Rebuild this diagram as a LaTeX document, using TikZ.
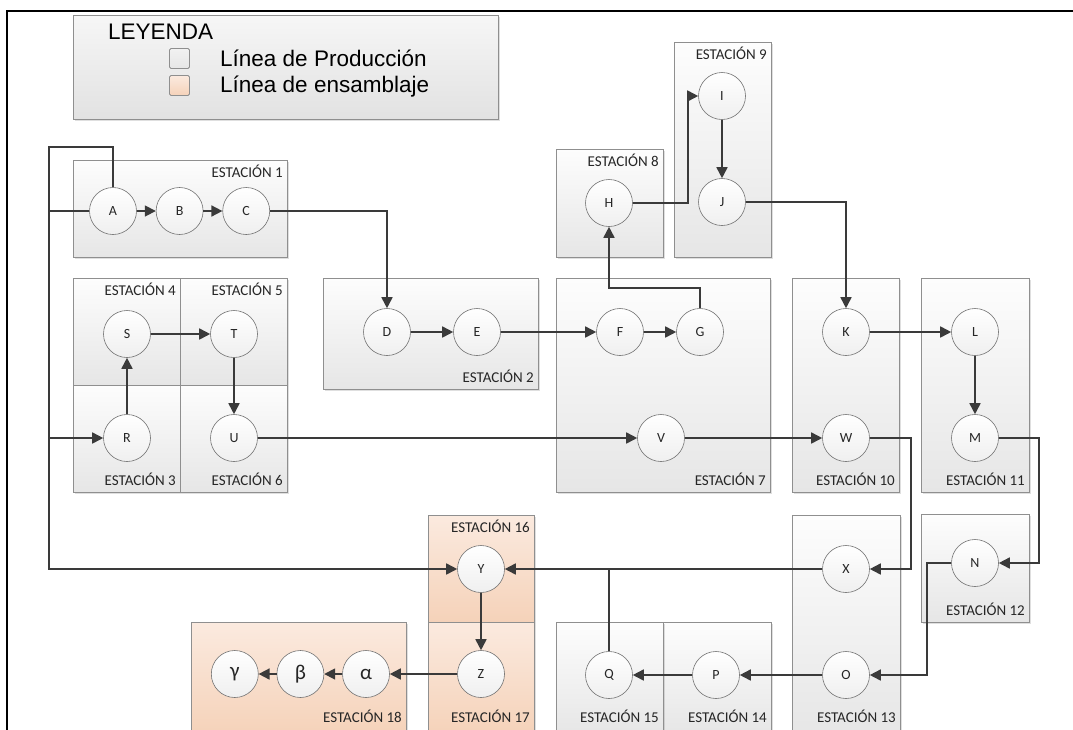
\documentclass[tikz,border=0pt]{standalone}
\usepackage{fontspec}
\setmainfont{Carlito}
\newfontfamily\legendfont{Liberation Sans}
\usepackage{tikz}
\usetikzlibrary{shapes,arrows.meta,positioning,shadows}

\definecolor{lineclr}{HTML}{3A3A3A}
\definecolor{boxdraw}{HTML}{8F8F8F}
\definecolor{prodtop}{HTML}{FDFDFD}
\definecolor{prodbot}{HTML}{E6E6E6}
\definecolor{legtop}{HTML}{F6F6F6}
\definecolor{legbot}{HTML}{E2E2E2}
\definecolor{asmtop}{HTML}{FBEADF}
\definecolor{asmbot}{HTML}{F5D2B9}
\definecolor{circbot}{HTML}{EFEFEF}
\definecolor{txtclr}{HTML}{262626}

\begin{document}
\begin{tikzpicture}[x=1pt, y=-1pt, >={Triangle[length=11pt,width=11pt]},
    prod/.style={rectangle, draw=boxdraw, line width=0.6pt, top color=prodtop, bottom color=prodbot, inner sep=0pt, outer sep=0pt,
        drop shadow={shadow xshift=1.5pt, shadow yshift=-1.5pt, opacity=0.25}},
    asm/.style={prod, top color=asmtop, bottom color=asmbot},
    stn/.style={circle, draw=boxdraw!80!black, line width=0.6pt, top color=white, bottom color=circbot, minimum size=47pt, inner sep=0pt,
        font=\fontsize{14}{14}\selectfont, text=txtclr},
    greek/.style={stn, font=\fontsize{21}{21}\selectfont},
    stlabel/.style={inner sep=0pt, font=\fontsize{15}{15}\selectfont, text=txtclr},
    legtext/.style={anchor=base west, inner sep=0pt, font=\legendfont\fontsize{22.5}{22.5}\selectfont},
    conn/.style={draw=lineclr, line width=1.7pt},
    flow/.style={conn, ->}]

    \useasboundingbox (0,0) rectangle (1073,729);
    \clip (0,0) rectangle (1073,729);

    % outer frame
    \draw[line width=2pt] (7,735) -- (7,11) -- (1080,11);

    % Legend
    \node[prod, minimum width=425pt, minimum height=104pt, top color=legtop, bottom color=legbot] (legend) at (285.5,67) {};
    \node[legtext] (legtitle) at (108,39) {LEYENDA};
    \node[draw=boxdraw, line width=0.8pt, top color=prodtop!50!prodbot, bottom color=prodbot, minimum size=20pt, inner sep=0pt, rounded corners=1.5pt] (legprod) at (179.5,58.5) {};
    \node[draw=boxdraw, line width=0.8pt, top color=asmtop, bottom color=asmbot, minimum size=20pt, inner sep=0pt, rounded corners=1.5pt] (legasm) at (179.5,85.5) {};
    \node[legtext] (legprodtxt) at (220,66) {Línea de Producción};
    \node[legtext] (legasmtxt) at (220,92) {Línea de ensamblaje};

    % Stations: production line
    \node[prod, minimum width=214pt, minimum height=97pt] (st1) at (180,208.5) {};
    \node[prod, minimum width=215pt, minimum height=111pt] (st2) at (430.5,333.5) {};
    \node[prod, minimum width=107pt, minimum height=107pt] (st4) at (126.5,331.5) {};
    \node[prod, minimum width=107pt, minimum height=107pt] (st5) at (233.5,331.5) {};
    \node[prod, minimum width=107pt, minimum height=107pt] (st3) at (126.5,438.5) {};
    \node[prod, minimum width=107pt, minimum height=107pt] (st6) at (233.5,438.5) {};
    \node[prod, minimum width=214pt, minimum height=214pt] (st7) at (663,385) {};
    \node[prod, minimum width=107pt, minimum height=108pt] (st8) at (609.5,203) {};
    \node[prod, minimum width=97pt, minimum height=215pt] (st9) at (722.5,149.5) {};
    \node[prod, minimum width=107pt, minimum height=214pt] (st10) at (845.5,385) {};
    \node[prod, minimum width=108pt, minimum height=214pt] (st11) at (975,385) {};
    \node[prod, minimum width=108pt, minimum height=108pt] (st12) at (975,568) {};
    \node[prod, minimum width=108pt, minimum height=220pt] (st13) at (846,625) {};
    \node[prod, minimum width=108pt, minimum height=113pt] (st14) at (717,678.5) {};
    \node[prod, minimum width=107pt, minimum height=113pt] (st15) at (609.5,678.5) {};

    % Stations: assembly line
    \node[asm, minimum width=106pt, minimum height=107pt] (st16) at (481,568.5) {};
    \node[asm, minimum width=106pt, minimum height=113pt] (st17) at (481,678.5) {};
    \node[asm, minimum width=215pt, minimum height=113pt] (st18) at (298.5,678.5) {};

    % Station names
    \node[stlabel, anchor=base east] (lb1) at ([shift={(-4,17)}]st1.north east) {ESTACIÓN 1};
    \node[stlabel, anchor=base east] (lb2) at ([shift={(-4,-7)}]st2.south east) {ESTACIÓN 2};
    \node[stlabel, anchor=base east] (lb3) at ([shift={(-4,-7)}]st3.south east) {ESTACIÓN 3};
    \node[stlabel, anchor=base east] (lb4) at ([shift={(-4,17)}]st4.north east) {ESTACIÓN 4};
    \node[stlabel, anchor=base east] (lb5) at ([shift={(-4,17)}]st5.north east) {ESTACIÓN 5};
    \node[stlabel, anchor=base east] (lb6) at ([shift={(-4,-7)}]st6.south east) {ESTACIÓN 6};
    \node[stlabel, anchor=base east] (lb7) at ([shift={(-4,-7)}]st7.south east) {ESTACIÓN 7};
    \node[stlabel, anchor=base east] (lb8) at ([shift={(-4,17)}]st8.north east) {ESTACIÓN 8};
    \node[stlabel, anchor=base east] (lb9) at ([shift={(-4,17)}]st9.north east) {ESTACIÓN 9};
    \node[stlabel, anchor=base east] (lb10) at ([shift={(-4,-7)}]st10.south east) {ESTACIÓN 10};
    \node[stlabel, anchor=base east] (lb11) at ([shift={(-4,-7)}]st11.south east) {ESTACIÓN 11};
    \node[stlabel, anchor=base east] (lb12) at ([shift={(-4,-7)}]st12.south east) {ESTACIÓN 12};
    \node[stlabel, anchor=base east] (lb13) at ([shift={(-4,-13)}]st13.south east) {ESTACIÓN 13};
    \node[stlabel, anchor=base east] (lb14) at ([shift={(-4,-13)}]st14.south east) {ESTACIÓN 14};
    \node[stlabel, anchor=base east] (lb15) at ([shift={(-4,-13)}]st15.south east) {ESTACIÓN 15};
    \node[stlabel, anchor=base east] (lb16) at ([shift={(-4,17)}]st16.north east) {ESTACIÓN 16};
    \node[stlabel, anchor=base east] (lb17) at ([shift={(-4,-13)}]st17.south east) {ESTACIÓN 17};
    \node[stlabel, anchor=base east] (lb18) at ([shift={(-4,-13)}]st18.south east) {ESTACIÓN 18};

    % Operations
    \node[stn] (A) at (113,211) {A};
    \node[stn, right=19pt of A] (B) {B};
    \node[stn, right=19pt of B] (C) {C};
    \node[stn] (D) at (387,332) {D};
    \node[stn] (E) at (477,332) {E};
    \node[stn] (F) at (620,332) {F};
    \node[stn] (G) at (700,332) {G};
    \node[stn] (H) at (609,203) {H};
    \node[stn] (I) at (722,96) {I};
    \node[stn] (J) at (722,202) {J};
    \node[stn] (K) at (846,332) {K};
    \node[stn] (L) at (975,332) {L};
    \node[stn] (M) at (975,438) {M};
    \node[stn] (N) at (975,563) {N};
    \node[stn] (O) at (846,675) {O};
    \node[stn] (P) at (716,675) {P};
    \node[stn] (Q) at (609,675) {Q};
    \node[stn] (R) at (127,438) {R};
    \node[stn] (S) at (127,334) {S};
    \node[stn] (T) at (234,334) {T};
    \node[stn] (U) at (234,438) {U};
    \node[stn] (V) at (661,438) {V};
    \node[stn] (W) at (846,438) {W};
    \node[stn] (X) at (846,569) {X};
    \node[stn] (Y) at (481,569) {Y};
    \node[stn] (Z) at (481,674) {Z};
    \node[greek] (alpha) at (366,674) {α};
    \node[greek, left=18pt of alpha] (beta) {β};
    \node[greek, left=18pt of beta] (gamma) {γ};

    % bend points
    \coordinate (lt) at (49,147);
    \coordinate (gh) at (609,288);
    \coordinate (hi) at (688,150);
    \coordinate (mn) at (1039,500);
    \coordinate (no) at (927,620);
    \coordinate (wx) at (911,500);

    % Flow
    \draw[flow] (A.north) |- (lt) |- (Y.west);
    \draw[conn] (A.west) -- (A.west -| lt);
    \draw[flow] (R.west -| lt) -- (R.west);
    \draw[flow] (A) -- (B);
    \draw[flow] (B) -- (C);
    \draw[flow] (C.east) -| (D.north);
    \draw[flow] (D) -- (E);
    \draw[flow] (E) -- (F);
    \draw[flow] (F) -- (G);
    \draw[flow] (G.north) |- (gh) -- (H.south);
    \draw[flow] (H.east) -| (hi) |- (I.west);
    \draw[flow] (I) -- (J);
    \draw[flow] (J.east) -| (K.north);
    \draw[flow] (K) -- (L);
    \draw[flow] (L) -- (M);
    \draw[flow] (M.east) -| (mn) |- (N.east);
    \draw[flow] (N.west) -| (no) |- (O.east);
    \draw[flow] (O) -- (P);
    \draw[flow] (P) -- (Q);
    \draw[conn] (Q.north) -- (Q.north |- X.west);
    \draw[flow] (R) -- (S);
    \draw[flow] (S) -- (T);
    \draw[flow] (T) -- (U);
    \draw[flow] (U) -- (V);
    \draw[flow] (V) -- (W);
    \draw[flow] (W.east) -| (wx) |- (X.east);
    \draw[flow] (X) -- (Y);
    \draw[flow] (Y) -- (Z);
    \draw[flow] (Z) -- (alpha);
    \draw[flow] (alpha) -- (beta);
    \draw[flow] (beta) -- (gamma);
\end{tikzpicture}
\end{document}
